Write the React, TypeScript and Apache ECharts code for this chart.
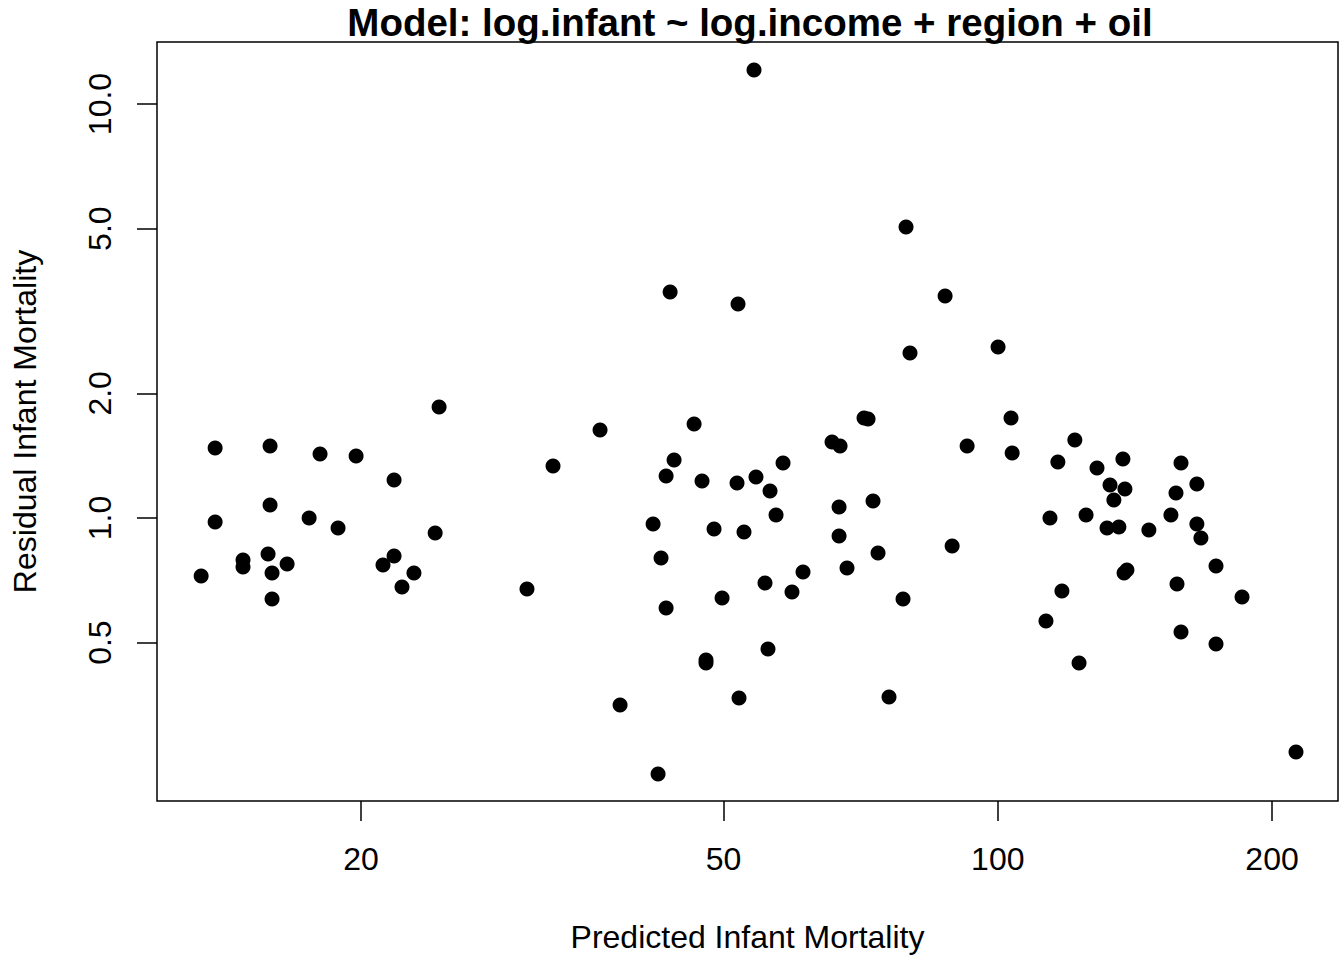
import React, { useEffect, useRef } from "react";
import * as echarts from "echarts";

const titleText = "Model: log.infant ~ log.income + region + oil";
const xName = "Predicted Infant Mortality";
const yName = "Residual Infant Mortality";

const xTicks = [20, 50, 100, 200];
const yTicks = [0.5, 1, 2, 5, 10];
const xRange = [11.94, 236.3];
const yRange = [0.2072, 14.12];

const predicted = [
  13.35, 13.83, 13.83, 14.84, 14.84, 15.81, 15.89, 15.89, 15.97, 15.97,
  16.59, 17.54, 18.03, 18.87, 19.75, 21.14, 21.74, 21.74, 22.18, 22.86,
  24.12, 24.36, 30.42, 32.49, 36.59, 38.49, 41.84, 42.37, 42.69, 43.24,
  43.24, 43.68, 44.12, 46.41, 47.35, 47.83, 47.83, 48.81, 49.81, 51.73,
  51.86, 51.99, 52.65, 54.0, 54.27, 55.52, 55.94, 56.23, 57.09, 58.11,
  59.44, 61.12, 65.77, 66.95, 66.95, 67.12, 68.31, 71.31, 72.04, 72.95,
  73.88, 75.96, 78.7, 79.3, 80.1, 87.53, 89.1, 92.54, 100.07, 103.4,
  103.7, 112.95, 114.1, 116.4, 117.6, 121.5, 122.8, 125.0, 128.5, 131.8,
  132.8, 134.1, 135.8, 137.2, 137.6, 138.6, 137.9, 146.5, 154.9, 156.9,
  157.3, 158.9, 158.9, 165.4, 165.4, 167.1, 173.6, 173.6, 185.4, 212.5,
];

const residual = [
  0.7244, 1.4761, 0.978, 0.7916, 0.7614, 0.8187, 1.4927, 1.075, 0.7366, 0.6372,
  0.7743, 1.0, 1.4276, 0.9459, 1.4118, 0.77, 0.8095, 1.2353, 0.6813, 0.7366,
  0.9201, 1.8541, 0.6738, 1.3355, 1.6314, 0.3535, 0.9672, 0.2407, 0.8005, 0.6061,
  1.2633, 3.5148, 1.3805, 1.6866, 1.2285, 0.4539, 0.4464, 0.9407, 0.6407, 1.215,
  3.2878, 0.3675, 0.9251, 12.081, 1.256, 0.6966, 0.4827, 1.162, 1.0168, 1.3576,
  0.6627, 0.7407, 1.5262, 1.0631, 0.9048, 1.4927, 0.7572, 1.7443, 1.7346, 1.0992,
  0.8233, 0.3695, 0.6372, 5.0455, 2.5034, 3.4375, 0.8556, 1.4927, 2.5884, 1.7443,
  1.4355, 0.5641, 1.0, 1.3652, 0.6664, 1.5433, 0.4464, 1.0168, 1.3206, 0.9459,
  1.2015, 1.1052, 0.9512, 1.3882, 0.7366, 0.7488, 1.175, 0.9354, 1.0168, 1.1492,
  0.6927, 1.3576, 0.5304, 1.2082, 0.9672, 0.8948, 0.7657, 0.4963, 0.6443, 0.2721,
];

const FONT = "'Liberation Sans', Arial, Helvetica, sans-serif";

export default function App() {
  const ref = useRef<HTMLDivElement>(null);

  useEffect(() => {
    if (!ref.current) return;
    const chart = echarts.init(ref.current, null, { renderer: "svg" });
    const points = predicted.map((x, i) => [x, residual[i]]);
    chart.setOption({
      animation: false,
      backgroundColor: "#ffffff",
      textStyle: { fontFamily: FONT, color: "#000" },
      title: {
        text: titleText,
        left: 745,
        top: -2,
        textAlign: "center",
        textStyle: {
          fontFamily: FONT,
          fontSize: 38.5,
          fontWeight: "bold",
          color: "#000",
        },
      },
      grid: {
        left: 157,
        top: 42,
        right: 6,
        bottom: 159,
        show: true,
        borderColor: "#000",
        borderWidth: 1.5,
        backgroundColor: "transparent",
      },
      xAxis: {
        type: "log",
        logBase: 10,
        min: xRange[0],
        max: xRange[1],
        name: xName,
        nameLocation: "middle",
        nameGap: 120,
        nameTextStyle: { fontFamily: FONT, fontSize: 32, color: "#000" },
        axisLine: { show: false },
        splitLine: { show: false },
        minorTick: { show: false },
        axisTick: {
          show: true,
          length: 20,
          customValues: xTicks,
          lineStyle: { color: "#000", width: 1.5 },
        },
        axisLabel: {
          customValues: xTicks,
          margin: 42,
          fontFamily: FONT,
          fontSize: 32,
          color: "#000",
          formatter: (v: number) => String(Math.round(v)),
        },
      },
      yAxis: {
        type: "log",
        logBase: 10,
        min: yRange[0],
        max: yRange[1],
        name: yName,
        nameLocation: "middle",
        nameGap: 116,
        nameRotate: 90,
        nameTextStyle: { fontFamily: FONT, fontSize: 32, color: "#000" },
        axisLine: { show: false },
        splitLine: { show: false },
        minorTick: { show: false },
        axisTick: {
          show: true,
          length: 20,
          customValues: yTicks,
          lineStyle: { color: "#000", width: 1.5 },
        },
        axisLabel: {
          customValues: yTicks,
          rotate: 90,
          margin: 41,
          fontFamily: FONT,
          fontSize: 32,
          color: "#000",
          formatter: (v: number) => Number(v).toFixed(1),
        },
      },
      series: [
        {
          type: "scatter",
          data: points,
          symbol: "circle",
          symbolSize: 15,
          itemStyle: { color: "#000", opacity: 1 },
          emphasis: { disabled: true },
        },
      ],
    });
    return () => chart.dispose();
  }, []);

  return (
    <div
      ref={ref}
      style={{
        position: "fixed",
        left: 0,
        top: 0,
        width: 1344,
        height: 960,
        background: "#fff",
      }}
    />
  );
}
